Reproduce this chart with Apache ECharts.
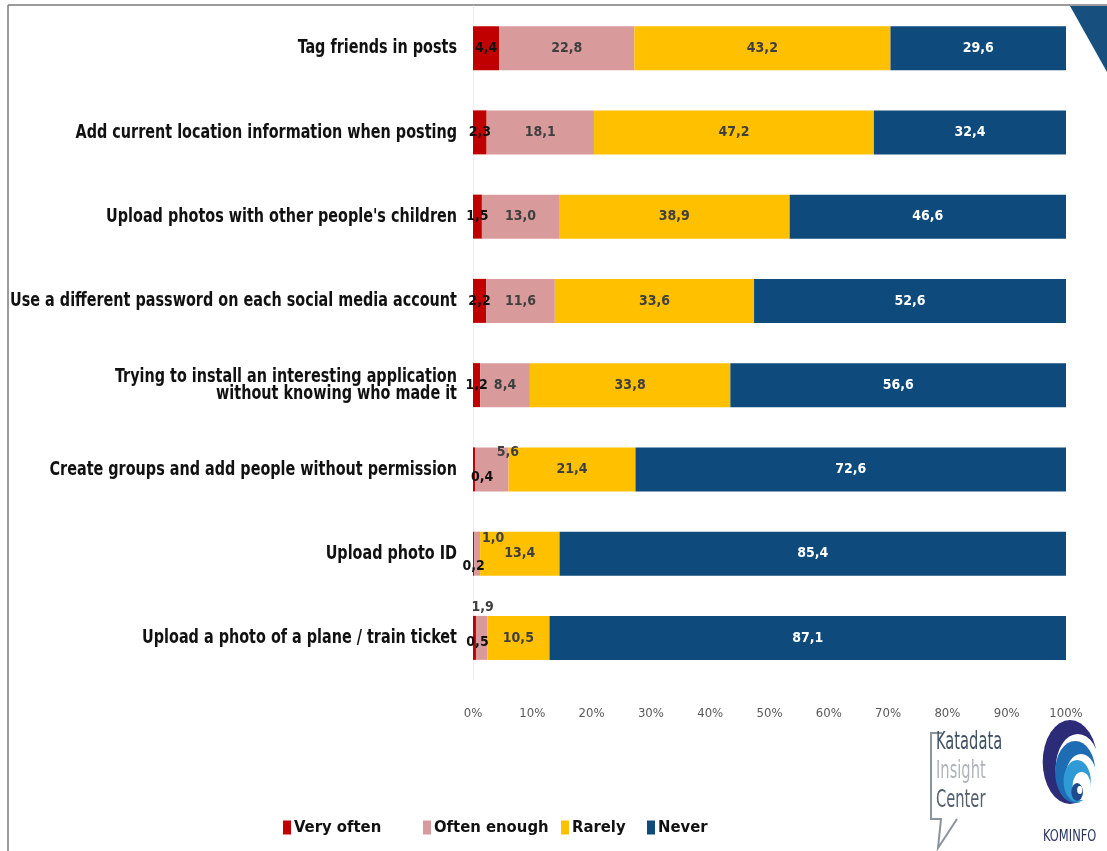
<!DOCTYPE html>
<html>
<head>
<meta charset="utf-8">
<script src="https://cdn.jsdelivr.net/npm/echarts@6/dist/echarts.min.js"></script>
<style>
  html, body { margin: 0; padding: 0; background: #ffffff; }
  #chart { width: 1107px; height: 851px; }
</style>
</head>
<body>
<div id="chart"></div>
<script>
// Survey activities (top to bottom)
const categories = [
  'Tag friends in posts',
  'Add current location information when posting',
  "Upload photos with other people's children",
  'Use a different password on each social media account',
  'Trying to install an interesting application\nwithout knowing who made it',
  'Create groups and add people without permission',
  'Upload photo ID',
  'Upload a photo of a plane / train ticket'
];

// Share of respondents (%) per answer
const veryOften    = [4.4, 2.3, 1.5, 2.2, 1.2, 0.4, 0.2, 0.5];
const oftenEnough  = [22.8, 18.1, 13.0, 11.6, 8.4, 5.6, 1.0, 1.9];
const rarely       = [43.2, 47.2, 38.9, 33.6, 33.8, 21.4, 13.4, 10.5];
const never        = [29.6, 32.4, 46.6, 52.6, 56.6, 72.6, 85.4, 87.1];

const seriesNames = ['Very often', 'Often enough', 'Rarely', 'Never'];
const xTicks = [0, 10, 20, 30, 40, 50, 60, 70, 80, 90, 100];

const FONT = '"DejaVu Sans Condensed", "Liberation Sans Narrow", sans-serif';
const colors = ['#C00000', '#D99A9C', '#FFC000', '#0E4A7B'];

// Thin segments get their label nudged off the bar so it stays readable
const labelShift = {
  'Very often':   { 5: [8, 8], 6: [0, 13], 7: [3, 4] },
  'Often enough': { 5: [16, -17], 6: [16, -15], 7: [1, -31] }
};

const fmt = v => v.toFixed(1).replace('.', ',');

function buildData(name, values) {
  return values.map((v, i) => {
    const item = { value: v };
    const shift = labelShift[name] && labelShift[name][i];
    if (shift) {
      item.label = { offset: shift };
    }
    return item;
  });
}

const seriesValues = [veryOften, oftenEnough, rarely, never];
const labelColors = ['#111111', '#3f3f3f', '#3f3f3f', '#ffffff'];

const series = seriesNames.map((name, k) => ({
  name: name,
  type: 'bar',
  stack: 'total',
  barWidth: 44,
  itemStyle: { color: colors[k] },
  label: {
    show: true,
    position: 'inside',
    formatter: p => fmt(p.value),
    color: labelColors[k],
    fontFamily: FONT,
    fontWeight: 'bold',
    fontSize: 14
  },
  data: buildData(name, seriesValues[k])
}));

const legendLeft = [278, 418, 556, 642];
const legends = seriesNames.map((name, k) => ({
  data: [name],
  left: legendLeft[k],
  top: 814,
  icon: 'rect',
  itemWidth: 8,
  itemHeight: 14,
  itemGap: 0,
  textStyle: {
    fontFamily: FONT,
    fontWeight: 'bold',
    fontSize: 16.5,
    color: '#111111',
    padding: [0, 0, 0, -2]
  }
}));

const chart = echarts.init(document.getElementById('chart'), null, { renderer: 'canvas' });

chart.setOption({
  backgroundColor: '#ffffff',
  animation: false,
  grid: { left: 473, right: 41, top: 6, bottom: 171, containLabel: false, outerBoundsMode: 'none' },
  xAxis: {
    type: 'value',
    min: xTicks[0],
    max: xTicks[xTicks.length - 1],
    interval: 10,
    axisLine: { show: false },
    axisTick: { show: false },
    splitLine: { show: false },
    axisLabel: {
      margin: 27,
      formatter: '{value}%',
      fontFamily: FONT,
      fontSize: 13,
      color: '#595959'
    }
  },
  yAxis: {
    type: 'category',
    inverse: true,
    data: categories,
    axisLine: { show: true, lineStyle: { color: '#ececec', width: 1 } },
    axisTick: { show: false },
    axisLabel: { show: false }
  },
  legend: legends,
  series: series
});

// Category names: narrow bold type, right-aligned against the axis
const categoryTexts = categories.map((name, i) => ({
  type: 'text',
  x: 457,
  y: chart.convertToPixel({ yAxisIndex: 0 }, i),
  scaleX: 0.8,
  style: {
    text: name,
    align: 'right',
    verticalAlign: 'middle',
    fontFamily: FONT,
    fontWeight: 'bold',
    fontSize: 20,
    lineHeight: 17,
    fill: '#111111'
  }
}));

// KOMINFO emblem, drawn in a local frame and squeezed into an oval
const emblem = {
  type: 'group',
  x: 1070,
  y: 762,
  scaleX: 0.65,
  children: [
    { type: 'circle', shape: { cx: 0, cy: 0, r: 42 }, style: { fill: '#2b2b78' } },
    { type: 'circle', shape: { cx: 12, cy: 6, r: 34 }, style: { fill: '#ffffff' } },
    { type: 'circle', shape: { cx: 8, cy: 10, r: 31 }, style: { fill: '#1e6cb4' } },
    { type: 'circle', shape: { cx: 17, cy: 16, r: 24 }, style: { fill: '#ffffff' } },
    { type: 'circle', shape: { cx: 11, cy: 19, r: 21 }, style: { fill: '#2f9ad5' } },
    { type: 'circle', shape: { cx: 18, cy: 24, r: 14 }, style: { fill: '#ffffff' } },
    { type: 'circle', shape: { cx: 11, cy: 30, r: 9 }, style: { fill: '#1f4b8c' } },
    { type: 'circle', shape: { cx: 15, cy: 28, r: 4 }, style: { fill: '#ffffff' } }
  ]
};

const decorations = [
  // frame
  { type: 'line', shape: { x1: 8, y1: 5, x2: 1107, y2: 5 }, style: { stroke: '#7a7a7a', lineWidth: 1.5 } },
  { type: 'line', shape: { x1: 8, y1: 5, x2: 8, y2: 851 }, style: { stroke: '#7a7a7a', lineWidth: 1.5 } },
  // corner accent
  { type: 'polygon', shape: { points: [[1070, 6], [1107, 6], [1107, 72]] }, style: { fill: '#17507F' } },
  // Katadata Insight Center badge
  { type: 'polyline', shape: { points: [[942, 733], [931, 733], [931, 819], [941, 819], [938, 848], [957, 819]] },
    style: { stroke: '#8b949b', lineWidth: 2, fill: null } },
  { type: 'text', x: 936, y: 731, scaleX: 0.68, style: { text: 'Katadata', fontFamily: FONT, fontSize: 24, fill: '#3f5165' } },
  { type: 'text', x: 936, y: 760, scaleX: 0.68, style: { text: 'Insight', fontFamily: FONT, fontSize: 24, fill: '#aeb4ba' } },
  { type: 'text', x: 936, y: 789, scaleX: 0.68, style: { text: 'Center', fontFamily: FONT, fontSize: 24, fill: '#52606c' } },
  emblem,
  { type: 'text', x: 1043, y: 830, scaleX: 0.85, style: { text: 'KOMINFO', fontFamily: FONT, fontSize: 15, fill: '#2a3560' } }
];

chart.setOption({ graphic: decorations.concat(categoryTexts) });
</script>
</body>
</html>
